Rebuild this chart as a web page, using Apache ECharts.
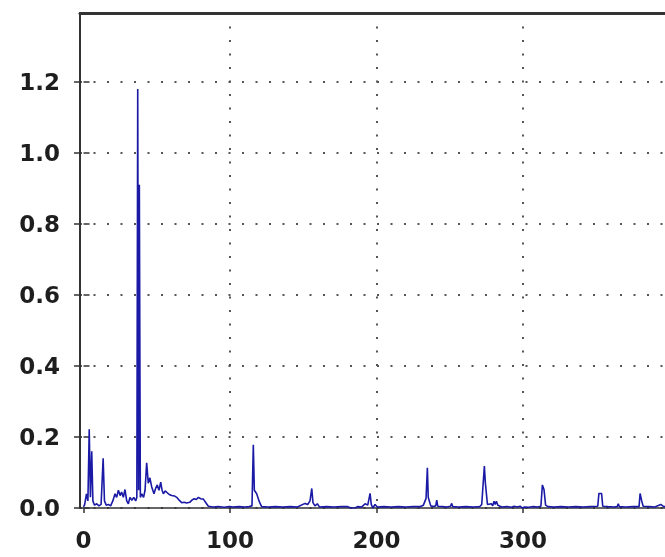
<!DOCTYPE html>
<html>
<head>
<meta charset="utf-8">
<script src="https://cdn.jsdelivr.net/npm/echarts@6/dist/echarts.min.js"></script>
<style>
  html, body { margin: 0; padding: 0; background: #fff; }
  #chart { width: 665px; height: 557px; }
</style>
</head>
<body>
<div id="chart"></div>
<script>
// Spectrum samples: frequency positions and their amplitudes
const freq = [
  0, 0.8, 2.0, 3.0, 3.9, 4.7, 5.6, 6.4, 7.5, 9.0, 10.5, 12.0, 13.4, 14.3, 15.5, 17.0, 18.5,
  20.0, 21.5, 22.6, 23.8, 25.0, 26.0, 27.2, 28.3, 29.5, 30.6, 31.7, 33.0, 34.3, 35.6,
  36.4, 37.0, 37.6, 38.1, 38.8, 39.8, 41.0, 42.0, 43.1, 44.2, 45.3, 46.5, 48.1, 49.2,
  50.3, 51.5, 52.7, 53.6, 54.5, 55.7, 56.8, 58.5, 60.2, 62.0, 63.6, 65.3, 67.0, 68.7,
  70.4, 72.5, 74.0, 75.5, 77.0, 78.4, 80.0, 81.8, 83.5, 85.2, 88.5, 92, 96, 99.5,
  100.5, 102, 106, 110, 113, 115.0, 115.9, 116.6, 117.5, 118.2, 119.0, 119.8, 120.6,
  121.6, 126, 131, 136, 141, 146, 151.2, 153.0, 154.6, 155.8, 156.6, 158.0, 159.6,
  161.0, 166, 171, 176, 180, 182.5, 185.5, 187, 190, 192.2, 194.0, 195.6, 196.4,
  197.5, 199.0, 200.5, 205, 210, 215, 220, 225, 230, 232.0, 233.2, 233.8, 234.7,
  235.3, 236.1, 237.0, 239.0, 240.4, 241.1, 241.8, 245, 248, 250.5, 251.3, 252.0,
  256, 261, 266, 270.5, 271.8, 272.8, 273.6, 274.3, 274.8, 275.7, 277.0, 278.4,
  279.3, 280.2, 281.0, 281.8, 282.8, 284.0, 285.5, 289, 292, 294, 296, 298, 299.5,
  301, 304, 307, 310, 312.2, 313.2, 314.3, 315.4, 317, 321, 326, 331, 336, 341, 346,
  351.0, 351.8, 353.6, 354.4, 358, 362, 364.3, 365.0, 365.7, 370, 375, 379.2, 379.9,
  381.0, 382.0, 386, 390, 394, 396, 400
];
const amp = [
  0.003, 0.01, 0.04, 0.02, 0.222, 0.03, 0.16, 0.02, 0.008, 0.012, 0.006, 0.01, 0.14, 0.02, 0.008, 0.01, 0.006,
  0.02, 0.04, 0.03, 0.05, 0.035, 0.045, 0.03, 0.052, 0.02, 0.012, 0.03, 0.022, 0.03, 0.02,
  0.03, 1.18, 0.05, 0.91, 0.03, 0.04, 0.03, 0.05, 0.127, 0.07, 0.085, 0.06, 0.04, 0.055,
  0.065, 0.05, 0.073, 0.05, 0.04, 0.048, 0.045, 0.038, 0.035, 0.034, 0.03, 0.022, 0.015, 0.016,
  0.014, 0.016, 0.022, 0.026, 0.024, 0.03, 0.026, 0.025, 0.015, 0.005, 0.003, 0.004, 0.002, 0.004,
  0.008, 0.003, 0.004, 0.003, 0.004, 0.006, 0.178, 0.05, 0.045, 0.04, 0.035, 0.02, 0.012,
  0.004, 0.003, 0.004, 0.003, 0.004, 0.003, 0.013, 0.01, 0.02, 0.055, 0.015, 0.006, 0.012,
  0.003, 0.004, 0.003, 0.004, 0.004, 0.0, 0.0, 0.004, 0.003, 0.012, 0.008, 0.041, 0.01,
  0.0, 0.01, 0.003, 0.004, 0.003, 0.004, 0.003, 0.004, 0.004, 0.008, 0.006, 0.027, 0.113,
  0.03, 0.028, 0.006, 0.004, 0.006, 0.022, 0.005, 0.004, 0.003, 0.005, 0.013, 0.004,
  0.003, 0.004, 0.003, 0.004, 0.01, 0.006, 0.118, 0.07, 0.07, 0.01, 0.006, 0.012,
  0.006, 0.019, 0.01, 0.019, 0.008, 0.011, 0.003, 0.004, 0.002, 0.005, 0.003, 0.005, 0.0,
  0.003, 0.002, 0.004, 0.003, 0.005, 0.065, 0.052, 0.008, 0.004, 0.003, 0.004, 0.003, 0.004, 0.003, 0.004,
  0.005, 0.041, 0.041, 0.005, 0.004, 0.003, 0.004, 0.012, 0.004, 0.003, 0.004, 0.004, 0.041,
  0.02, 0.005, 0.004, 0.003, 0.01, 0.004, 0.003
];
const xTicks = [0, 100, 200, 300];
const xGridLines = [100, 200, 300];
const yTicks = [0, 0.2, 0.4, 0.6, 0.8, 1.0, 1.2];

const X_MIN = -2.4, X_MAX = 396.9;
const Y_MIN = 0, Y_MAX = 1.394;

const labelFont = {
  fontFamily: 'DejaVu Sans',
  fontWeight: 'bold',
  fontSize: 23,
  color: '#1e1e1e'
};
const dotted = { color: '#555', width: 2, type: [2, 11.5] };
const tickStyle = { color: '#333', width: 1.5 };

const chart = echarts.init(document.getElementById('chart'), null, { renderer: 'canvas' });
chart.setOption({
  animation: false,
  backgroundColor: '#ffffff',
  grid: { left: 80, top: 13, bottom: 49, right: 0 },
  xAxis: [{
    type: 'value', min: X_MIN, max: X_MAX, position: 'bottom',
    axisLine: { show: true, onZero: false, lineStyle: { color: '#333', width: 1.5 } },
    axisTick: { show: true, length: 5, customValues: xTicks, lineStyle: tickStyle },
    axisLabel: Object.assign({ margin: 23, customValues: xTicks, formatter: v => String(Math.round(v)) }, labelFont),
    splitLine: { show: false }
  }, {
    // frame line along the top, and the vertical dotted grid lines
    type: 'value', min: X_MIN, max: X_MAX, position: 'top',
    axisLine: { show: true, onZero: false, lineStyle: { color: '#333', width: 3 } },
    axisTick: { show: false, customValues: xGridLines },
    axisLabel: { show: false },
    splitLine: { show: true, lineStyle: dotted }
  }],
  yAxis: [{
    type: 'value', min: Y_MIN, max: Y_MAX, position: 'left',
    axisLine: { show: true, onZero: false, lineStyle: { color: '#333', width: 2 } },
    axisTick: { show: true, length: 6, customValues: yTicks, lineStyle: tickStyle },
    axisLabel: Object.assign({ margin: 20, verticalAlign: 'top', lineHeight: 5, customValues: yTicks, formatter: v => v.toFixed(1) }, labelFont),
    splitLine: { show: true, lineStyle: dotted }
  }, {
    // inner half of the crossing tick marks
    type: 'value', min: Y_MIN, max: Y_MAX, position: 'left',
    axisLine: { show: false },
    axisTick: { show: true, inside: true, length: 6, customValues: yTicks, lineStyle: tickStyle },
    axisLabel: { show: false },
    splitLine: { show: false }
  }],
  series: [{
    type: 'line',
    data: freq.map((f, i) => [f, amp[i]]),
    showSymbol: false,
    symbol: 'none',
    lineStyle: { color: '#1a1aa6', width: 1.6 },
    clip: true,
    z: 5
  }]
});
</script>
</body>
</html>
